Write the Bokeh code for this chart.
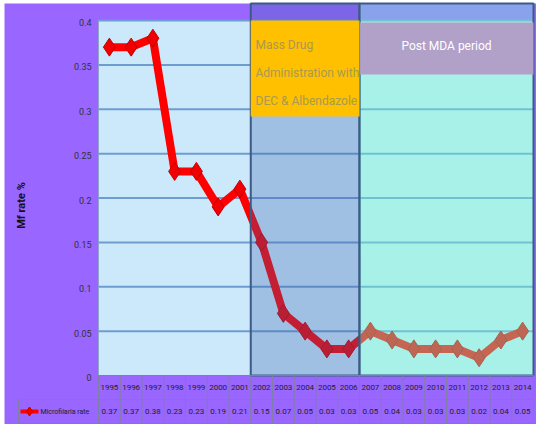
import math
from bokeh.plotting import figure
from bokeh.models import Range1d
from bokeh.core.properties import value
from bokeh.embed import file_html
from bokeh.resources import INLINE

# ---------------- data ----------------
years = ["1995", "1996", "1997", "1998", "1999", "2000", "2001", "2002", "2003", "2004",
         "2005", "2006", "2007", "2008", "2009", "2010", "2011", "2012", "2013", "2014"]
mf_rate = [0.37, 0.37, 0.38, 0.23, 0.23, 0.19, 0.21, 0.15, 0.07, 0.05,
           0.03, 0.03, 0.05, 0.04, 0.03, 0.03, 0.03, 0.02, 0.04, 0.05]
y_ticks = [0, 0.05, 0.1, 0.15, 0.2, 0.25, 0.3, 0.35, 0.4]
y_tick_labels = ["0", "0.05", "0.1", "0.15", "0.2", "0.25", "0.3", "0.35", "0.4"]
series_name = "Microfilaria rate"
y_title = "Mf rate %"
mda_first, mda_last = "2002", "2006"
post_first, post_last = "2007", "2014"
mda_text = ["Mass Drug", "Administration with", "DEC & Albendazole"]
post_text = "Post MDA period"

# ---------------- layout (page pixels) ----------------
W, H = 536, 424
PX0, PY0 = 8, 8
plot_left, plot_right = 106, 541
plot_top, plot_bottom = 28, 383
n = len(years)
cat_w = (plot_right - plot_left) / n
y_scale = (plot_bottom - plot_top) / max(y_ticks)


def dx(px):
    return -0.5 + (px - plot_left) / cat_w


def dy(py):
    return (plot_bottom - py) / y_scale


FONT = value("Roboto")
PURPLE = "#9966ff"

p = figure(width=W, height=H, output_backend="svg", toolbar_location=None,
           x_range=Range1d(dx(PX0), dx(PX0 + W)), y_range=Range1d(dy(PY0 + H), dy(PY0)),
           x_axis_location=None, y_axis_location=None, min_border=0,
           background_fill_color="white", border_fill_color="white")
p.outline_line_color = None
p.grid.visible = False

x_lo, x_hi = -0.5, n - 0.5
top_y = dy(11)

# purple background
p.quad(left=[dx(12)], right=[dx(PX0 + W)], top=[top_y], bottom=[dy(PY0 + H)],
       fill_color=PURPLE, line_color=None)

# plot area
p.quad(left=[x_lo], right=[x_hi], top=[max(y_ticks)], bottom=[0],
       fill_color="#cce9fb", line_color="#8fa6c6", line_width=1)

# grid lines
gy = [t for t in y_ticks if t > 0]
p.segment(x0=[x_lo] * len(gy), x1=[x_hi] * len(gy), y0=gy, y1=gy,
          line_color="#6d9dd0", line_width=2)

# y tick labels
p.text(x=[dx(99)] * len(y_ticks), y=y_ticks, text=y_tick_labels, text_align="right",
       text_baseline="middle", y_offset=2, text_font=FONT, text_font_size="9px",
       text_color="#333333")

# y title
p.text(x=[dx(29)], y=[dy(213)], text=[y_title], angle=math.pi / 2, text_align="center",
       text_baseline="middle", text_font=FONT, text_font_size="11px",
       text_font_style="bold", text_color="#111111")

# data series
xs = list(range(n))
p.line(xs, mf_rate, line_color="#ff0000", line_width=8, line_join="round")
p.scatter(xs, mf_rate, marker="diamond", size=18, fill_color="#f00000",
          line_color="#c00000", line_width=1)

# period boxes (drawn over the line, translucent)
mi0, mi1 = years.index(mda_first) - 0.5, years.index(mda_last) + 0.5
pi0, pi1 = years.index(post_first) - 0.5, years.index(post_last) + 0.5
p.quad(left=[mi0], right=[mi1], top=[top_y], bottom=[0],
       fill_color="#3a62ac", fill_alpha=0.3, line_color="#3b5a85", line_width=2)
p.quad(left=[pi0], right=[pi1], top=[top_y], bottom=[0],
       fill_color="#72fdcf", fill_alpha=0.4, line_color="#3b5a85", line_width=2)

# MDA label box
p.quad(left=[mi0], right=[mi1], top=[max(y_ticks)], bottom=[dy(124)],
       fill_color="#ffc000", line_color=None)
p.text(x=[dx(263)] * 3, y=[dy(52), dy(80), dy(108)], text=mda_text, text_align="left",
       text_baseline="middle", text_font=FONT, text_font_size="12px",
       text_color="#a89a52")

# Post MDA label box
p.quad(left=[pi0 + 0.03], right=[pi1], top=[dy(30)], bottom=[dy(82)],
       fill_color="#b1a1c9", line_color=None)
p.text(x=[(pi0 + pi1) / 2], y=[dy(53)], text=[post_text], text_align="center",
       text_baseline="middle", text_font=FONT, text_font_size="12px",
       text_color="white")

# data table
row1_b, row2_b = dy(407), dy(431)
TBL = "#7f7fa6"
p.segment(x0=[x_lo, dx(26), dx(26)], x1=[x_hi, x_hi, x_hi], y0=[0, row1_b, row2_b],
          y1=[0, row1_b, row2_b], line_color=TBL, line_width=1)
bx = [i - 0.5 for i in range(n + 1)]
p.segment(x0=bx, x1=bx, y0=[0] * len(bx), y1=[row2_b] * len(bx), line_color=TBL, line_width=1)
p.segment(x0=[dx(26)], x1=[dx(26)], y0=[row1_b], y1=[row2_b], line_color=TBL, line_width=1)

p.text(x=xs, y=[dy(395)] * n, text=years, text_align="center", text_baseline="middle",
       text_font=FONT, text_font_size="8px", text_color="#222222")
p.text(x=xs, y=[dy(419)] * n, text=[f"{v:.2f}" for v in mf_rate], text_align="center",
       text_baseline="middle", text_font=FONT, text_font_size="8px", text_color="#222222")

# legend key in table
p.line([dx(28), dx(46)], [dy(419)] * 2, line_color="#ff0000", line_width=4)
p.scatter([dx(37)], [dy(419)], marker="diamond", size=9, fill_color="#f00000",
          line_color="#c00000")
p.text(x=[dx(48)], y=[dy(419)], text=[series_name], text_align="left", text_baseline="middle",
       text_font=FONT, text_font_size="7px", text_color="#222222")

open("out.html", "w").write(file_html(p, INLINE))
